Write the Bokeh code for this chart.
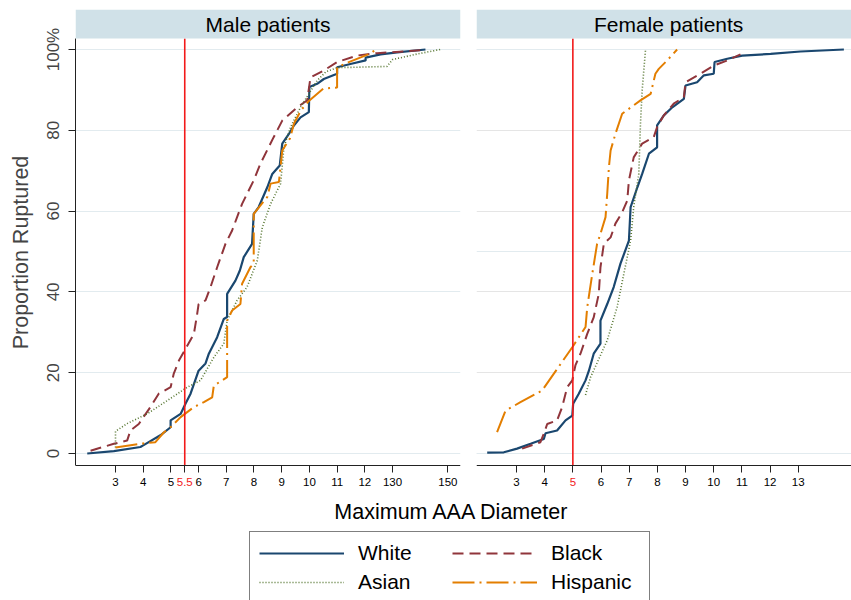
from bokeh.plotting import figure
from bokeh.models import (Range1d, FixedTicker, BoxAnnotation, Label,
                          Legend, LegendItem, Grid, LinearAxis)
from bokeh.layouts import row, column
from bokeh.embed import file_html
from bokeh.resources import INLINE

# ---------------- data ----------------
groups = ["White", "Black", "Asian", "Hispanic"]
panels = ["Male patients", "Female patients"]

male_white_x = [1.98, 2.94, 3.9, 4.0, 4.62, 4.99, 4.99, 5.35, 5.53, 5.71, 6.0, 6.25, 6.37, 6.67, 6.91,
                7.03, 7.03, 7.33, 7.49, 7.63, 7.93, 7.99, 8.17, 8.48, 8.66, 8.93, 9.02, 9.26, 9.44,
                9.68, 9.98, 10.0, 10.28, 10.52, 11.0, 11.0, 11.48, 12.03, 12.03, 12.57, 13.17, 14.19]
male_white_y = [0.0, 0.6, 1.6, 2.0, 4.5, 6.5, 8.2, 9.8, 12.4, 14.8, 20.5, 22.3, 24.7, 28.8, 33.3,
                33.8, 39.5, 42.8, 45.3, 48.6, 51.9, 59.3, 61.0, 65.9, 69.2, 71.3, 76.7, 79.1, 81.2,
                83.2, 84.5, 90.7, 91.5, 92.7, 94.0, 95.6, 96.4, 97.3, 98.0, 98.8, 99.3, 100.0]

male_black_x = [2.1, 2.94, 3.42, 3.54, 3.84, 4.26, 4.56, 4.99, 5.1, 5.29, 5.53, 5.83, 5.95, 6.0,
                6.25, 6.43, 6.67, 6.97, 7.21, 7.57, 7.99, 8.23, 8.71, 9.02, 9.56, 9.92, 10.04,
                10.52, 11.0, 11.72, 12.45, 14.0]
male_black_y = [0.7, 2.4, 3.2, 5.7, 7.3, 11.5, 14.8, 16.4, 19.7, 23.0, 25.9, 29.6, 34.6, 37.0,
                37.9, 41.2, 46.1, 51.9, 55.2, 61.8, 67.6, 71.7, 78.3, 82.4, 85.7, 87.4, 93.1,
                94.8, 96.9, 98.5, 99.1, 99.8]

male_asian_x = [3.0, 3.0, 3.42, 4.14, 4.87, 5.59, 6.07, 6.55, 6.91, 7.03, 7.39, 7.75, 8.12, 8.3,
                8.6, 8.96, 9.08, 9.32, 9.68, 9.98, 10.28, 10.6, 11.0, 12.8, 13.0, 13.9, 14.73]
male_asian_y = [1.5, 5.5, 7.4, 9.8, 13.1, 16.4, 18.1, 23.8, 27.2, 32.9, 37.9, 41.2, 47.8, 56.0,
                61.8, 66.8, 75.8, 80.8, 85.7, 89.0, 92.3, 94.5, 95.5, 95.8, 97.5, 98.9, 100.0]

male_hisp_x = [3.0, 4.0, 4.44, 4.74, 4.99, 5.35, 5.83, 6.19, 6.49, 6.55, 7.03, 7.03, 7.21, 7.51,
               7.57, 7.87, 7.99, 7.99, 8.48, 8.6, 8.9, 9.02, 9.3, 9.44, 9.7, 10.0, 10.5, 11.0,
               11.0, 11.4, 12.2, 12.4]
male_hisp_y = [1.5, 2.5, 2.8, 5.2, 6.5, 9.0, 11.5, 12.7, 13.9, 16.8, 18.9, 32.9, 35.4, 37.0,
               42.0, 46.1, 47.0, 59.3, 63.5, 66.8, 67.2, 75.0, 78.0, 81.6, 85.0, 87.4, 90.3, 90.6,
               95.6, 96.8, 99.0, 100.0]

female_white_x = [1.96, 2.55, 3.02, 3.5, 3.97, 4.03, 4.44, 4.74, 4.98, 5.01, 5.21, 5.45, 5.57,
                  5.74, 5.98, 5.98, 6.22, 6.45, 6.69, 6.99, 7.05, 7.29, 7.46, 7.7, 7.99, 7.99,
                  8.23, 8.53, 8.94, 9.0, 9.41, 9.65, 10.0, 10.03, 10.48, 11.01, 12.02, 13.08, 14.62]
female_white_y = [0.2, 0.3, 1.2, 2.4, 3.6, 5.0, 5.7, 8.2, 9.4, 12.3, 14.8, 18.1, 20.5,
                  24.7, 27.2, 32.9, 37.0, 41.2, 47.0, 52.7, 61.0, 65.9, 69.2, 74.2, 75.8, 81.2,
                  83.7, 85.7, 87.8, 91.1, 91.9, 93.6, 94.0, 96.9, 97.7, 98.5, 98.9, 99.5, 100.0]

female_black_x = [3.2, 3.85, 3.97, 4.09, 4.44, 4.62, 4.8, 4.98, 5.09, 5.27, 5.51, 5.74, 5.92,
                  5.98, 6.1, 6.34, 6.51, 6.75, 6.93, 6.99, 7.16, 7.46, 7.87, 7.99, 8.23, 8.58,
                  8.94, 9.0, 9.53, 10.0, 10.48, 10.95]
female_black_y = [1.2, 2.8, 4.9, 7.3, 8.2, 11.5, 16.4, 18.1, 21.8, 24.7, 29.6, 33.7, 39.5,
                  46.1, 51.9, 53.5, 56.9, 59.7, 62.6, 67.6, 73.3, 76.7, 78.3, 80.8, 83.7, 86.6,
                  88.2, 91.9, 94.0, 96.0, 97.3, 98.8]

female_asian_x = [5.45, 5.63, 6.22, 6.57, 6.81, 6.93, 7.05, 7.16, 7.34, 7.4, 7.46, 7.58]
female_asian_y = [14.5, 18.9, 28.0, 36.2, 44.5, 48.6, 52.7, 61.0, 69.2, 81.6, 89.9, 100.0]

female_hisp_x = [2.31, 2.61, 3.14, 3.91, 4.32, 4.98, 5.45, 5.51, 5.69, 5.86, 5.98, 6.16, 6.22,
                 6.28, 6.34, 6.51, 6.75, 7.4, 7.76, 7.93, 8.05, 8.35, 8.7]
female_hisp_y = [5.3, 10.6, 12.7, 15.6, 19.7, 26.3, 31.3, 36.2, 44.5, 51.9, 54.4, 58.5, 64.3,
                 70.9, 75.0, 79.1, 84.1, 87.4, 89.0, 94.0, 95.2, 97.3, 100.0]

male_xticks = [3, 4, 5, 5.5, 6, 7, 8, 9, 10, 11, 12, 13, 15]
male_xlabels = {5.5: "", 13: "130", 15: "150"}
female_xticks = [3, 4, 5, 6, 7, 8, 9, 10, 11, 12, 13]
female_xlabels = {5: ""}
male_cut, female_cut = 5.5, 5
yticks_left = [0, 20, 40, 60, 80, 100]
ylabels_left = {100: "100%"}
yticks_right = [0, 50, 100]

# ---------------- style ----------------
FONT = "Liberation Sans"
COLORS = {"White": "#1a476f", "Black": "#90353b", "Asian": "#55752f", "Hispanic": "#e37e00"}
STYLES = {"White": dict(line_width=2.2),
          "Black": dict(line_width=2.0, line_dash="11 6"),
          "Asian": dict(line_width=1.6, line_dash="1 2"),
          "Hispanic": dict(line_width=2.0, line_dash="22 5 2 5")}
BAND = "#d0e1e8"
GRID = "#e2ebef"
RED = "#f21a1a"
AXC = "#222222"

# frame covers header band (top) and tick-label strip (bottom)
Y0, Y1 = -10.396, 109.9
Y_AX = -2.97               # where the x axis line sits
YBAND = 102.7              # bottom of the header band


def style_xaxis(ax, ticks, overrides, color):
    ax.ticker = FixedTicker(ticks=ticks)
    ax.major_label_overrides = overrides
    ax.major_label_text_font = FONT
    ax.major_label_text_font_size = "11.5px"
    ax.major_label_text_color = color
    ax.major_tick_out = 7
    ax.major_tick_in = 0
    ax.minor_tick_line_color = None
    ax.major_label_standoff = 6
    ax.axis_line_color = AXC
    ax.major_tick_line_color = AXC
    ax.fixed_location = Y_AX


def make_panel(title, xr, width, mbl, mbr, series, xticks, xlabels, cut,
               left_axis, title_x=None):
    p = figure(width=width, height=495, x_range=Range1d(*xr), y_range=Range1d(Y0, Y1),
               output_backend="svg", toolbar_location=None,
               y_axis_location="left" if left_axis else None,
               min_border_left=mbl, min_border_right=mbr, min_border_top=9,
               min_border_bottom=0)
    p.outline_line_color = None
    p.background_fill_color = "white"
    p.xgrid.visible = False

    if left_axis:
        ya = p.yaxis[0]
        ya.ticker = FixedTicker(ticks=yticks_left)
        ya.major_label_overrides = ylabels_left
        ya.bounds = (Y_AX, YBAND)
        ya.major_label_orientation = "vertical"
        ya.major_label_text_font = FONT
        ya.major_label_text_font_size = "17px"
        ya.major_tick_out = 7
        ya.major_tick_in = 0
        ya.minor_tick_line_color = None
        ya.major_label_standoff = 5
        ya.axis_line_color = AXC
        ya.major_tick_line_color = AXC
        ya.axis_label = "Proportion Ruptured"
        ya.axis_label_text_font = FONT
        ya.axis_label_text_font_size = "21.5px"
        ya.axis_label_text_font_style = "normal"
        ya.axis_label_standoff = 9
        p.ygrid.ticker = FixedTicker(ticks=yticks_left)
        p.ygrid.grid_line_color = GRID
        p.ygrid.grid_line_width = 1.2
    else:
        g = Grid(dimension=1, ticker=FixedTicker(ticks=yticks_right),
                 grid_line_color=GRID, grid_line_width=1.2)
        p.add_layout(g)

    for g, (xs, ys) in zip(groups, series):
        p.line(xs, ys, line_color=COLORS[g], **STYLES[g])

    # cut-off reference line, from the x axis up to the header band
    p.segment(x0=[cut], y0=[Y_AX], x1=[cut], y1=[YBAND], line_color=RED, line_width=1.6)

    style_xaxis(p.xaxis[0], xticks, xlabels, "black")
    red_ax = LinearAxis()
    style_xaxis(red_ax, [cut], {}, RED)
    red_ax.axis_line_color = None
    red_ax.major_tick_line_color = None
    p.add_layout(red_ax, "below")

    p.add_layout(BoxAnnotation(bottom=YBAND, fill_color=BAND, fill_alpha=1.0,
                               line_color=None))
    tx = title_x if title_x is not None else (xr[0] + xr[1]) / 2
    p.add_layout(Label(x=tx, y=(YBAND + Y1) / 2, text=title, text_align="center",
                       text_baseline="middle", text_font=FONT, text_font_size="21px",
                       text_color="black"))
    return p


left = make_panel(panels[0], (1.556, 15.455), 468, 75, 8,
                  [(male_white_x, male_white_y), (male_black_x, male_black_y),
                   (male_asian_x, male_asian_y), (male_hisp_x, male_hisp_y)],
                  male_xticks, male_xlabels, male_cut, True)
right = make_panel(panels[1], (1.58, 14.89), 383, 8, 0,
                   [(female_white_x, female_white_y), (female_black_x, female_black_y),
                    (female_asian_x, female_asian_y), (female_hisp_x, female_hisp_y)],
                   female_xticks, female_xlabels, female_cut, False, title_x=8.4)

# bottom strip: x-axis title and legend (coordinates are page pixels)
bot = figure(width=851, height=105, x_range=Range1d(0, 851), y_range=Range1d(600, 495),
             output_backend="svg", toolbar_location=None,
             x_axis_location=None, y_axis_location=None,
             min_border_left=0, min_border_right=0, min_border_top=0, min_border_bottom=0)
bot.outline_line_color = None
bot.grid.visible = False
bot.add_layout(Label(x=451.5, y=511, text="Maximum AAA Diameter", text_align="center",
                     text_baseline="middle", text_font=FONT, text_font_size="21.5px",
                     text_color="black"))
nan = float("nan")
items = []
for g in groups:
    r = bot.line(x=[nan], y=[nan], line_color=COLORS[g], **STYLES[g])
    items.append(LegendItem(label=g, renderers=[r]))
legend = Legend(items=items, orientation="horizontal", ncols=2, location=(249, -4),
                glyph_width=85, glyph_height=20, label_standoff=14, label_width=89,
                spacing=5, padding=9, margin=0, border_line_color="black",
                border_line_width=1, background_fill_color="white", background_fill_alpha=1,
                label_text_font=FONT, label_text_font_size="21px", label_text_color="black")
bot.add_layout(legend)

layout = column(row(left, right), bot)
open("out.html", "w").write(file_html(layout, INLINE))
